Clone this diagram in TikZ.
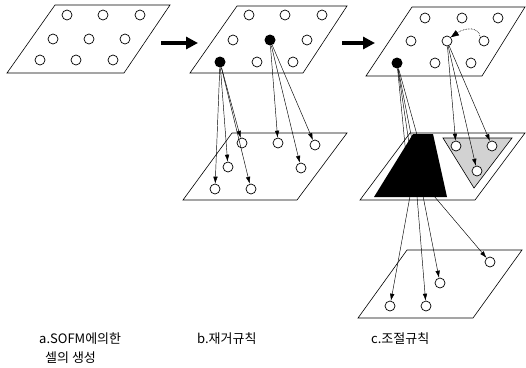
\documentclass[tikz,border=0pt]{standalone}
\usepackage{fontspec}
\newfontfamily\kr{Noto Sans CJK KR}
\usetikzlibrary{arrows.meta}
\begin{document}
\begin{tikzpicture}[x=1pt,y=-1pt,
 plane/.style={draw,line width=0.6pt},
 cell/.style={circle,draw,line width=0.7pt,minimum size=10pt,inner sep=0pt,fill=white},
 fcell/.style={circle,fill=black,minimum size=11pt,inner sep=0pt},
 conn/.style={line width=0.45pt,-{Latex[length=7pt,width=4.5pt]}},
 bigarrow/.style={line width=4.5pt,-{Triangle[length=12pt,width=12pt]}},
 lbl/.style={font=\kr\fontsize{13pt}{15pt}\selectfont,anchor=west,inner sep=0pt}]
\useasboundingbox (0,0) rectangle (526,367);

% ---------- planes ----------
\draw[plane] (55,5) -- (170,5) -- (124,73) -- (7,73) -- cycle;
\draw[plane] (237,6) -- (347,6) -- (303,73) -- (190,73) -- cycle;
\draw[plane] (412,7) -- (525,7) -- (482,76) -- (366,76) -- cycle;
\draw[plane] (232,133) -- (347,133) -- (297,200) -- (183,200) -- cycle;
\draw[plane] (410,133) -- (525,133) -- (475,200) -- (360,200) -- cycle;
\draw[plane] (407,250) -- (522,250) -- (473,318) -- (358,318) -- cycle;

% ---------- big arrows ----------
\coordinate (ab1) at (161,43);
\coordinate (ab2) at (198,43);
\coordinate (bc1) at (342,43);
\coordinate (bc2) at (375,43);
\draw[bigarrow] (ab1) -- (ab2);
\draw[bigarrow] (bc1) -- (bc2);

% ---------- a ----------
\node[cell] (a1) at (67,15) {};
\node[cell] (a2) at (103,15) {};
\node[cell] (a3) at (140,15) {};
\node[cell] (a4) at (53,39) {};
\node[cell] (a5) at (89,39) {};
\node[cell] (a6) at (125,39) {};
\node[cell] (a7) at (40,60) {};
\node[cell] (a8) at (76,60) {};
\node[cell] (a9) at (113,60) {};

% ---------- b top ----------
\node[cell] (b1) at (249,15) {};
\node[cell] (b2) at (285,15) {};
\node[cell] (b3) at (322,15) {};
\node[cell] (b4) at (233,40) {};
\node[fcell] (bf1) at (270,40) {};
\node[cell] (b6) at (307,40) {};
\node[fcell] (bf2) at (220,62) {};
\node[cell] (b8) at (257,62) {};
\node[cell] (b9) at (293,62) {};

% ---------- b lower ----------
\node[cell] (e1) at (242,143) {};
\node[cell] (e2) at (278,143) {};
\node[cell] (e3) at (315,145) {};
\node[cell] (e4) at (228,167) {};
\node[cell] (e5) at (301,168) {};
\node[cell] (e6) at (215,189) {};
\node[cell] (e7) at (251,189) {};

\draw[conn] (bf2) -- (e6);
\draw[conn] (bf2) -- (e4);
\draw[conn] (bf2) -- (e1);
\draw[conn] (bf2) -- (e7);
\draw[conn] (bf1) -- (e2);
\draw[conn] (bf1) -- (e5);
\draw[conn] (bf1) -- (e3);

% ---------- c top ----------
\node[cell] (c1) at (425,18) {};
\node[cell] (c2) at (462,18) {};
\node[cell] (c3) at (498,18) {};
\node[cell] (c4) at (411,41) {};
\node[cell] (c5) at (447,41) {};
\node[cell] (c6) at (484,41) {};
\node[fcell] (cf) at (397,63) {};
\node[cell] (c8) at (435,63) {};
\node[cell] (c9) at (471,63) {};

\draw[densely dotted,line width=0.6pt,-{Triangle[length=8pt,width=6pt]}]
  (c6.north west) .. controls (479,27) and (466,27) .. (c5.north east);

% ---------- c lower ----------
\filldraw[fill=gray!35,line width=0.6pt] (443,138) -- (512,138) -- (474,188) -- cycle;
\node[cell] (g1) at (456,146) {};
\node[cell] (g2) at (492,146) {};
\node[cell] (g3) at (477,171) {};
\draw[conn] (c5) -- (g1);
\draw[conn] (c5) -- (g3);
\draw[conn] (c5) -- (g2);

% ---------- c bottom ----------
\node[cell] (d1) at (390,306) {};
\node[cell] (d2) at (426,306) {};
\node[cell] (d3) at (440,283) {};
\node[cell] (d4) at (490,262) {};
\coordinate (t1) at (410,196);
\coordinate (t2) at (417,196);
\coordinate (t3) at (423,196);
\coordinate (t4) at (434,196);
\draw[conn] (cf) -- (t1) -- (d1);
\draw[conn] (cf) -- (t2) -- (d2);
\draw[conn] (cf) -- (t3) -- (d3);
\draw[conn] (cf) -- (t4) -- (d4);
\fill (413,134) -- (433,134) -- (447,197) -- (374,197) -- cycle;

% ---------- labels ----------
\node[lbl] (la) at (39,339) {a.SOFM에의한};
\node[lbl] (la2) at (45,358) {셀의 생성};
\node[lbl] (lb) at (197,339) {b.재거규칙};
\node[lbl] (lc) at (371,339) {c.조절규칙};
\end{tikzpicture}
\end{document}
